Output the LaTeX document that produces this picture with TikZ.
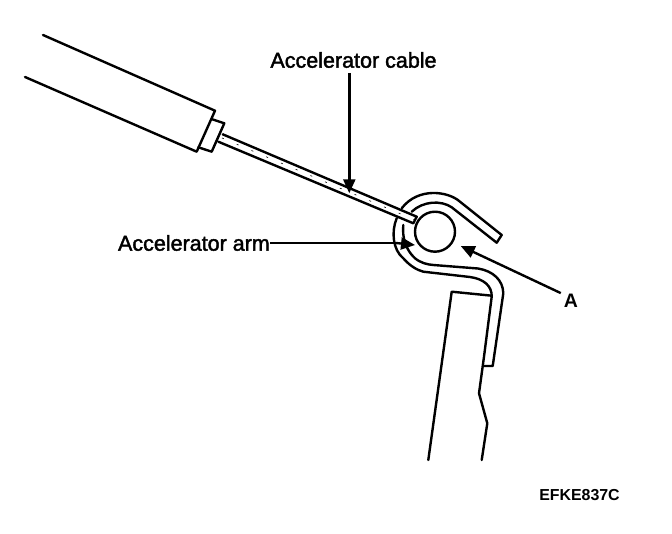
\documentclass[tikz,border=0pt]{standalone}
\usepackage{fontspec}
\setmainfont{Liberation Sans}
\newfontfamily\labfont[FakeBold=1.8]{Liberation Sans}
\usetikzlibrary{arrows.meta}
\tikzset{
  ink/.style={line width=2.4pt,black,line cap=round,line join=round},
  thin ink/.style={line width=0.6pt,black,dash pattern=on 2pt off 14pt},
  leader/.style={line width=2.4pt,black,-{Triangle[length=14pt,width=12pt]}},
  lab/.style={font=\labfont\fontsize{21.5}{24}\selectfont,text=black,inner sep=0pt},
  letter/.style={font=\bfseries\fontsize{19.5}{22}\selectfont,text=black,inner sep=0pt},
  code/.style={font=\bfseries\fontsize{15.9}{18}\selectfont,text=black,inner sep=0pt}
}
\begin{document}
\begin{tikzpicture}[x=1pt,y=-1pt]
\useasboundingbox (0,0) rectangle (672,534);
% sheath
\draw[ink] (43,35) -- (215,110.7) -- (196.7,151.7) -- (25,77);
% collar
\draw[ink] (212.3,119.3) -- (224.3,123.3) -- (211.7,151.7) -- (198.3,147.3);
% rod
\draw[ink] (222.7,134.3) -- (416.7,216.7) -- (413.3,223.3) -- (218.3,141.7);
\draw[thin ink] (222,138) -- (415,220);
% pin
\draw[ink] (435,231.7) circle (20);
% hook: outer line
\draw[ink] (501.7,235) -- (460,201.7) .. controls (448,191) and (418,187) .. (401.7,208.3);
\draw[ink] (501.7,235) -- (496.7,242.7) -- (451.7,207.3) .. controls (441,200) and (423,201) .. (411.7,211.7);
% hook: lower strip
\draw[ink] (396.7,218.3) .. controls (391,232) and (393,250) .. (403.3,258.3)
  .. controls (410,266) and (417,270) .. (423.3,271.7) -- (470,277)
  .. controls (484,279) and (492,286) .. (491.7,296.7)
  -- (484,356.7) -- (479,393.3) -- (487.3,423.3) -- (481.7,460);
\draw[ink] (403.3,225) .. controls (402,238) and (406,250) .. (415,258.3)
  .. controls (421,263) and (427,264.5) .. (433.3,265) -- (478,268.5)
  .. controls (493,271) and (503,280) .. (503.3,293.3)
  -- (492.7,366) -- (484,366);
% arm body
\draw[ink] (491.7,295.7) -- (451.7,291.7) -- (428.3,460);
% labels
\node[lab] (cablelab) at (353.5,60) {Accelerator cable};
\node[lab,anchor=east] (armlab) at (270,243) {Accelerator arm};
\node[letter] (alab) at (571,301) {A};
\node[code] (codelab) at (579.5,495) {EFKE837C};
% leaders
\coordinate (cabletip) at (349.3,193.3);
\coordinate (armtip) at (415,245);
\coordinate (atip) at (460.7,246);
\draw[leader] (349.3,73) -- (cabletip);
\draw[line width=2.4pt] (armlab.east) -- (396,243);
\draw[leader] (396,243) -- (armtip);
\draw[leader] (alab.north west) ++(-3,-1) -- (atip);
\end{tikzpicture}
\end{document}
